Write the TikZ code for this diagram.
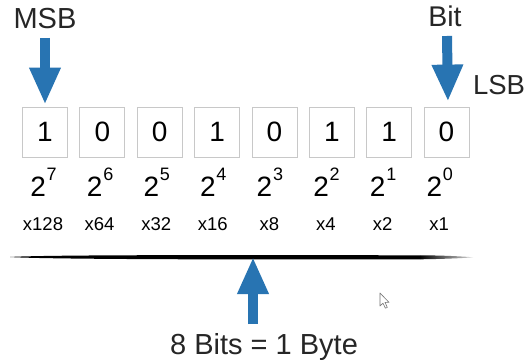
\documentclass[tikz,border=0pt]{standalone}
\usepackage{fontspec}
\setmainfont{Liberation Sans}
\usetikzlibrary{arrows.meta}
\definecolor{arrowblue}{RGB}{40,116,178}
\definecolor{boxgray}{RGB}{200,200,200}
\newcommand{\fsz}[1]{\fontsize{#1}{#1}\selectfont}
\newcommand{\pw}[1]{{\fsz{28}2}\hspace{0.8pt}\raisebox{16pt}{\fsz{18}#1}}
\tikzset{
  bitbox/.style={draw=boxgray, line width=0.8pt, minimum width=45pt,
    minimum height=50pt, inner sep=0pt, font=\fsz{28}},
  power/.style={anchor=base, inner sep=0pt},
  weight/.style={anchor=base, inner sep=0pt, font=\fsz{18.5}},
  label/.style={anchor=base, inner sep=0pt, text=black!85},
  bluearrow/.style={draw=arrowblue, line width=10pt,
    -{Triangle[width=29pt,length=37pt]}},
}
\begin{document}
\begin{tikzpicture}[x=1pt,y=1pt]
\fill[white] (0,0) rectangle (527,-363);
\useasboundingbox (0,0) rectangle (527,-363);

% the eight bit boxes, MSB on the left
\foreach \v [count=\i from 0] in {1,0,0,1,0,1,1,0} {
  \pgfmathsetmacro{\e}{int(7-\i)}
  \node[bitbox] (b\e) at (45+57.36*\i,-132) {\v};
  \node[power] (p\e) at (43.5+56.6*\i,-197) {\pw{\e}};
}
% place values
\foreach \w [count=\i from 0] in {128,64,32,16,8,4,2,1}
  \node[weight] (w\i) at (43+56.6*\i,-231) {x\w};

% labels
\node[label, font=\fsz{29}] (msb) at (45,-29) {MSB};
\node[label, font=\fsz{28.5}] (bit) at (445,-27) {Bit};
\node[label, font=\fsz{27.5}] (lsb) at (499,-95) {LSB};
\node[label, font=\fsz{29}] (byte) at (264,-354) {8 Bits = 1 Byte};

% brush-stroke rule under the weights, fading out on the right
\coordinate (lineL) at (10,-257);
\coordinate (lineM) at (420,-257.2);
\coordinate (lineR) at (473,-257.3);
\coordinate (mid) at (253,-257);
\fill[black] (lineL)
  .. controls (50,-259.7) and (300,-259.6) .. ([yshift=-2.1pt]lineM)
  -- ([yshift=1.9pt]lineM)
  .. controls (300,-255.2) and (50,-254.4) .. (lineL) -- cycle;
\shade[left color=black, right color=black!15]
  ([yshift=-2.1pt]lineM) .. controls (445,-259) and (465,-258) .. (lineR)
  .. controls (465,-256.6) and (445,-255.4) .. ([yshift=1.9pt]lineM) -- cycle;

% blue arrows
\draw[bluearrow, shorten >=2pt] ([yshift=-9pt]msb.base) -- (b7.north);
\draw[bluearrow, shorten >=5pt] ([xshift=2pt,yshift=-9pt]bit.base) -- ([xshift=1.5pt]b0.north);
\path (byte.base) ++(0,30) coordinate (bytetop);
\draw[bluearrow] (mid |- bytetop) -- (mid);

% mouse pointer
\filldraw[fill=white, draw=black!55, line width=0.6pt, line join=round]
  (380,-293) -- (380,-306) -- (383,-303.2) -- (385.4,-308.2) -- (387.3,-307.4)
  -- (385,-302.4) -- (389,-302.4) -- cycle;
\end{tikzpicture}
\end{document}
